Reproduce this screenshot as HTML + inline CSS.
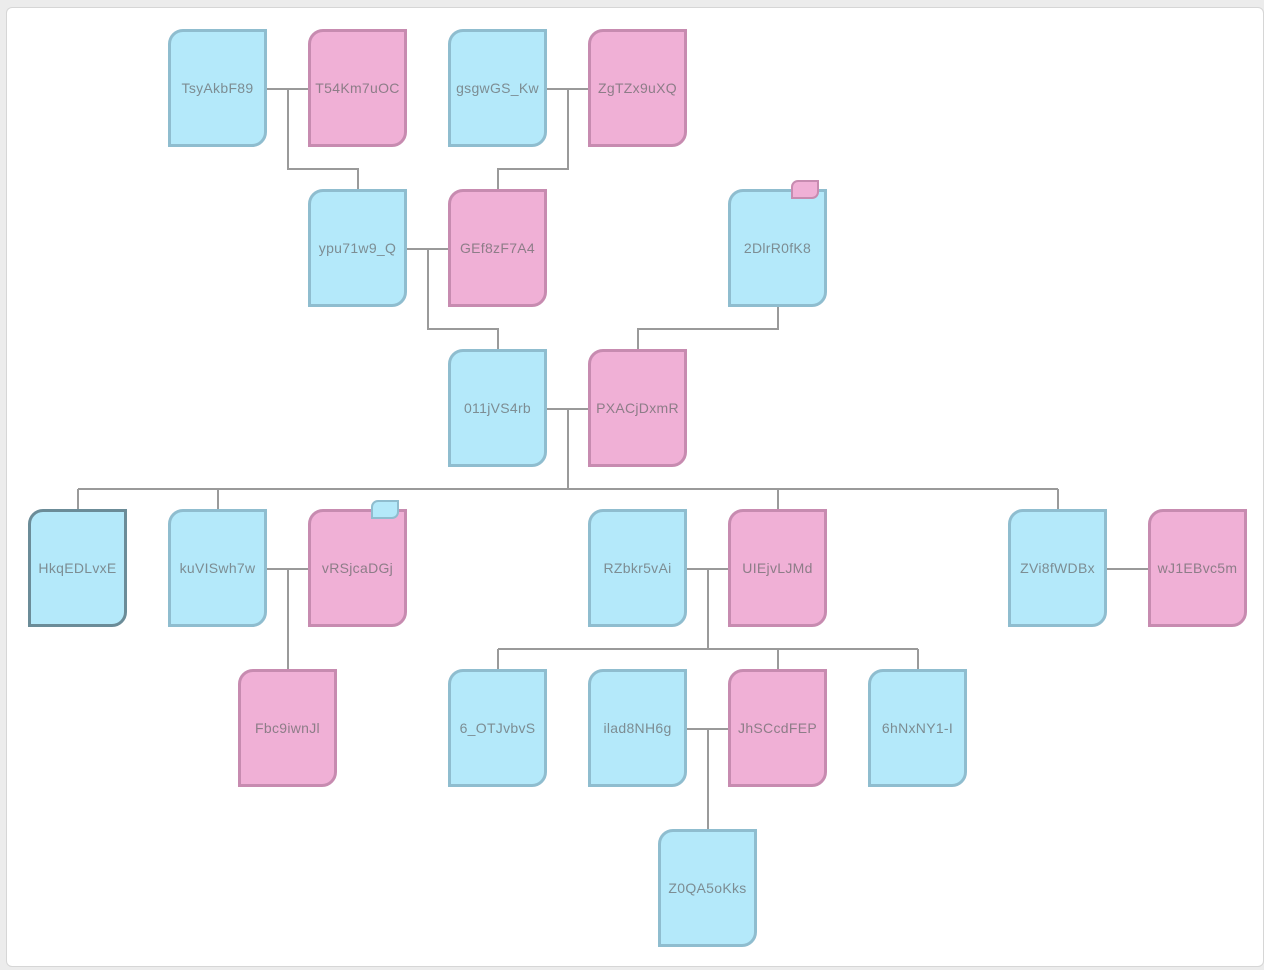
<!DOCTYPE html>
<html><head><style>
body{margin:0;width:1264px;height:970px;background:#ececec;position:relative;overflow:hidden;font-family:"Liberation Sans",sans-serif}
.panel{position:absolute;left:6px;top:7px;width:1256px;height:958px;background:#fff;border:1px solid #d6d6d6;border-radius:6px}
.n{position:absolute;width:93px;height:112px;border:3px solid;border-radius:15px 0 15px 0;display:flex;align-items:center;justify-content:center;font-size:14px;color:#7d8d93;letter-spacing:0.3px}
.b{background:#b4e9fa;border-color:#8fbdcf}
.p{background:#f0b0d6;border-color:#c78bb0;color:#8d7d88}
.k{border-color:#6b8c98}
.bd{position:absolute;width:24px;height:15px;border:2px solid;border-radius:7px 0 7px 0}
svg{position:absolute;left:0;top:0}
</style></head><body>
<div class="panel"></div>
<svg width="1264" height="970"><g stroke="#9a9a9a" stroke-width="2" fill="none">
<path d="M266 89H308M288 89V169H358V189"/>
<path d="M546 89H588M568 89V169H498V189"/>
<path d="M406 249H448M428 249V329H498V349"/>
<path d="M778 306V329H638V349"/>
<path d="M546 409H588M568 409V489M78 489H1058M78 489V509M218 489V509M778 489V509M1058 489V509"/>
<path d="M266 569H308M288 569V669"/>
<path d="M686 569H728M708 569V649M498 649H918M498 649V669M778 649V669M918 649V669"/>
<path d="M1106 569H1148"/>
<path d="M686 729H728M708 729V829"/>
</g></svg>
<div class="n b" style="left:168px;top:29px">TsyAkbF89</div>
<div class="n p" style="left:308px;top:29px">T54Km7uOC</div>
<div class="n b" style="left:448px;top:29px">gsgwGS_Kw</div>
<div class="n p" style="left:588px;top:29px">ZgTZx9uXQ</div>
<div class="n b" style="left:308px;top:189px">ypu71w9_Q</div>
<div class="n p" style="left:448px;top:189px">GEf8zF7A4</div>
<div class="n b" style="left:728px;top:189px">2DlrR0fK8</div>
<div class="n b" style="left:448px;top:349px">011jVS4rb</div>
<div class="n p" style="left:588px;top:349px">PXACjDxmR</div>
<div class="n b k" style="left:28px;top:509px">HkqEDLvxE</div>
<div class="n b" style="left:168px;top:509px">kuVISwh7w</div>
<div class="n p" style="left:308px;top:509px">vRSjcaDGj</div>
<div class="n b" style="left:588px;top:509px">RZbkr5vAi</div>
<div class="n p" style="left:728px;top:509px">UIEjvLJMd</div>
<div class="n b" style="left:1008px;top:509px">ZVi8fWDBx</div>
<div class="n p" style="left:1148px;top:509px">wJ1EBvc5m</div>
<div class="n p" style="left:238px;top:669px">Fbc9iwnJl</div>
<div class="n b" style="left:448px;top:669px">6_OTJvbvS</div>
<div class="n b" style="left:588px;top:669px">ilad8NH6g</div>
<div class="n p" style="left:728px;top:669px">JhSCcdFEP</div>
<div class="n b" style="left:868px;top:669px">6hNxNY1-I</div>
<div class="n b" style="left:658px;top:829px">Z0QA5oKks</div>
<div class="bd" style="left:791px;top:180px;background:#f0b0d6;border-color:#c78bb0"></div>
<div class="bd" style="left:371px;top:500px;background:#b4e9fa;border-color:#8fbdcf"></div>
</body></html>
